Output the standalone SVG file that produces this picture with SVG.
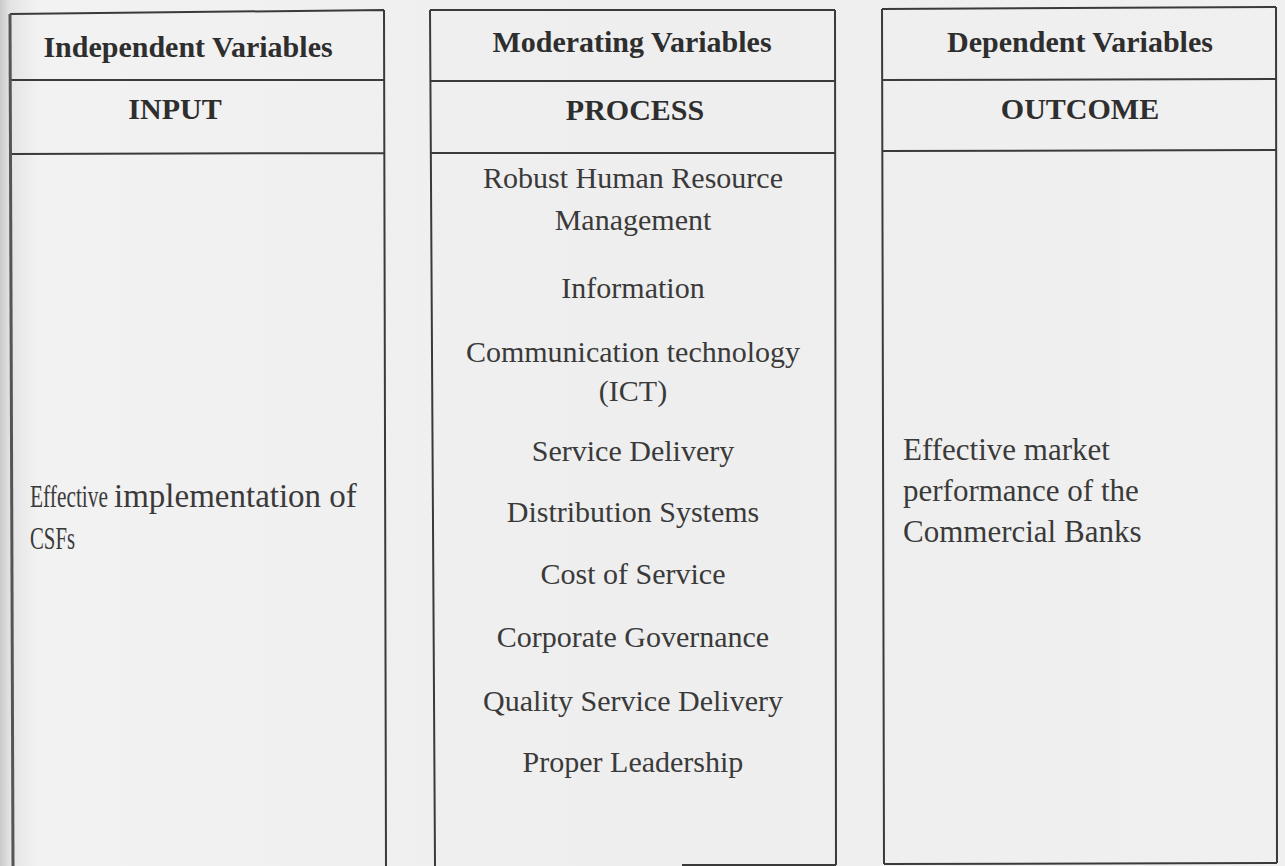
<svg xmlns="http://www.w3.org/2000/svg" width="1285" height="866" viewBox="0 0 1285 866">
<defs>
<linearGradient id="bg" x1="0" y1="0" x2="1" y2="0">
<stop offset="0" stop-color="#c9c9c9"/>
<stop offset="0.008" stop-color="#e4e4e4"/>
<stop offset="0.03" stop-color="#f2f2f2"/>
<stop offset="0.5" stop-color="#eeeeee"/>
<stop offset="1" stop-color="#f0f0f0"/>
</linearGradient>
</defs>
<style>
.ln{stroke:#3a3a3a;stroke-width:2;fill:none}
.hd{font-family:"Liberation Serif","Times New Roman",serif;font-weight:bold;font-size:30px;fill:#2e2e2e;text-anchor:middle}
.bd{font-family:"Liberation Serif","Times New Roman",serif;font-size:30px;fill:#3a3a3a;text-anchor:middle}
.lt{font-family:"Liberation Serif","Times New Roman",serif;font-size:31px;fill:#3a3a3a}
</style>
<rect x="0" y="0" width="1285" height="866" fill="url(#bg)"/>
<g id="input">
<path class="ln" d="M10 14 L384 10 M384 10 L386 866 M10 80 L384 80 M11 154 L385 153"/>
<path d="M10 14 L13 866" stroke="#555" stroke-width="3" fill="none"/>
<text class="hd" x="188" y="57">Independent Variables</text>
<text class="hd" x="175" y="119">INPUT</text>
<text class="lt" transform="translate(30 507) scale(0.69 1)">Effective</text>
<text class="lt" x="114" y="507" style="font-size:33px">implementation of</text>
<text class="lt" transform="translate(30 549) scale(0.67 1)">CSFs</text>
</g>
<g id="process">
<path class="ln" d="M430 10 L835 10 M430 10 L435 866 M835 10 L836 865 M430 81 L835 81 M431 153 L835 153 M682 865 L836 865"/>
<text class="hd" x="632" y="52">Moderating Variables</text>
<text class="hd" x="635" y="120">PROCESS</text>
<text class="bd" x="633" y="188">Robust Human Resource</text>
<text class="bd" x="633" y="230">Management</text>
<text class="bd" x="633" y="298">Information</text>
<text class="bd" x="633" y="362">Communication technology</text>
<text class="bd" x="633" y="401">(ICT)</text>
<text class="bd" x="633" y="461">Service Delivery</text>
<text class="bd" x="633" y="522">Distribution Systems</text>
<text class="bd" x="633" y="584">Cost of Service</text>
<text class="bd" x="633" y="647">Corporate Governance</text>
<text class="bd" x="633" y="711">Quality Service Delivery</text>
<text class="bd" x="633" y="772">Proper Leadership</text>
</g>
<g id="outcome">
<path class="ln" d="M882 9 L1276 7 M882 9 L884 864 M1276 7 L1277 863 M882 80 L1276 79 M882 151 L1276 150 M884 864 L1277 863"/>
<text class="hd" x="1080" y="52">Dependent Variables</text>
<text class="hd" x="1080" y="119">OUTCOME</text>
<text class="lt" x="903" y="460">Effective market</text>
<text class="lt" x="903" y="501">performance of the</text>
<text class="lt" x="903" y="542">Commercial Banks</text>
</g>
<g id="connectors"></g>
</svg>
